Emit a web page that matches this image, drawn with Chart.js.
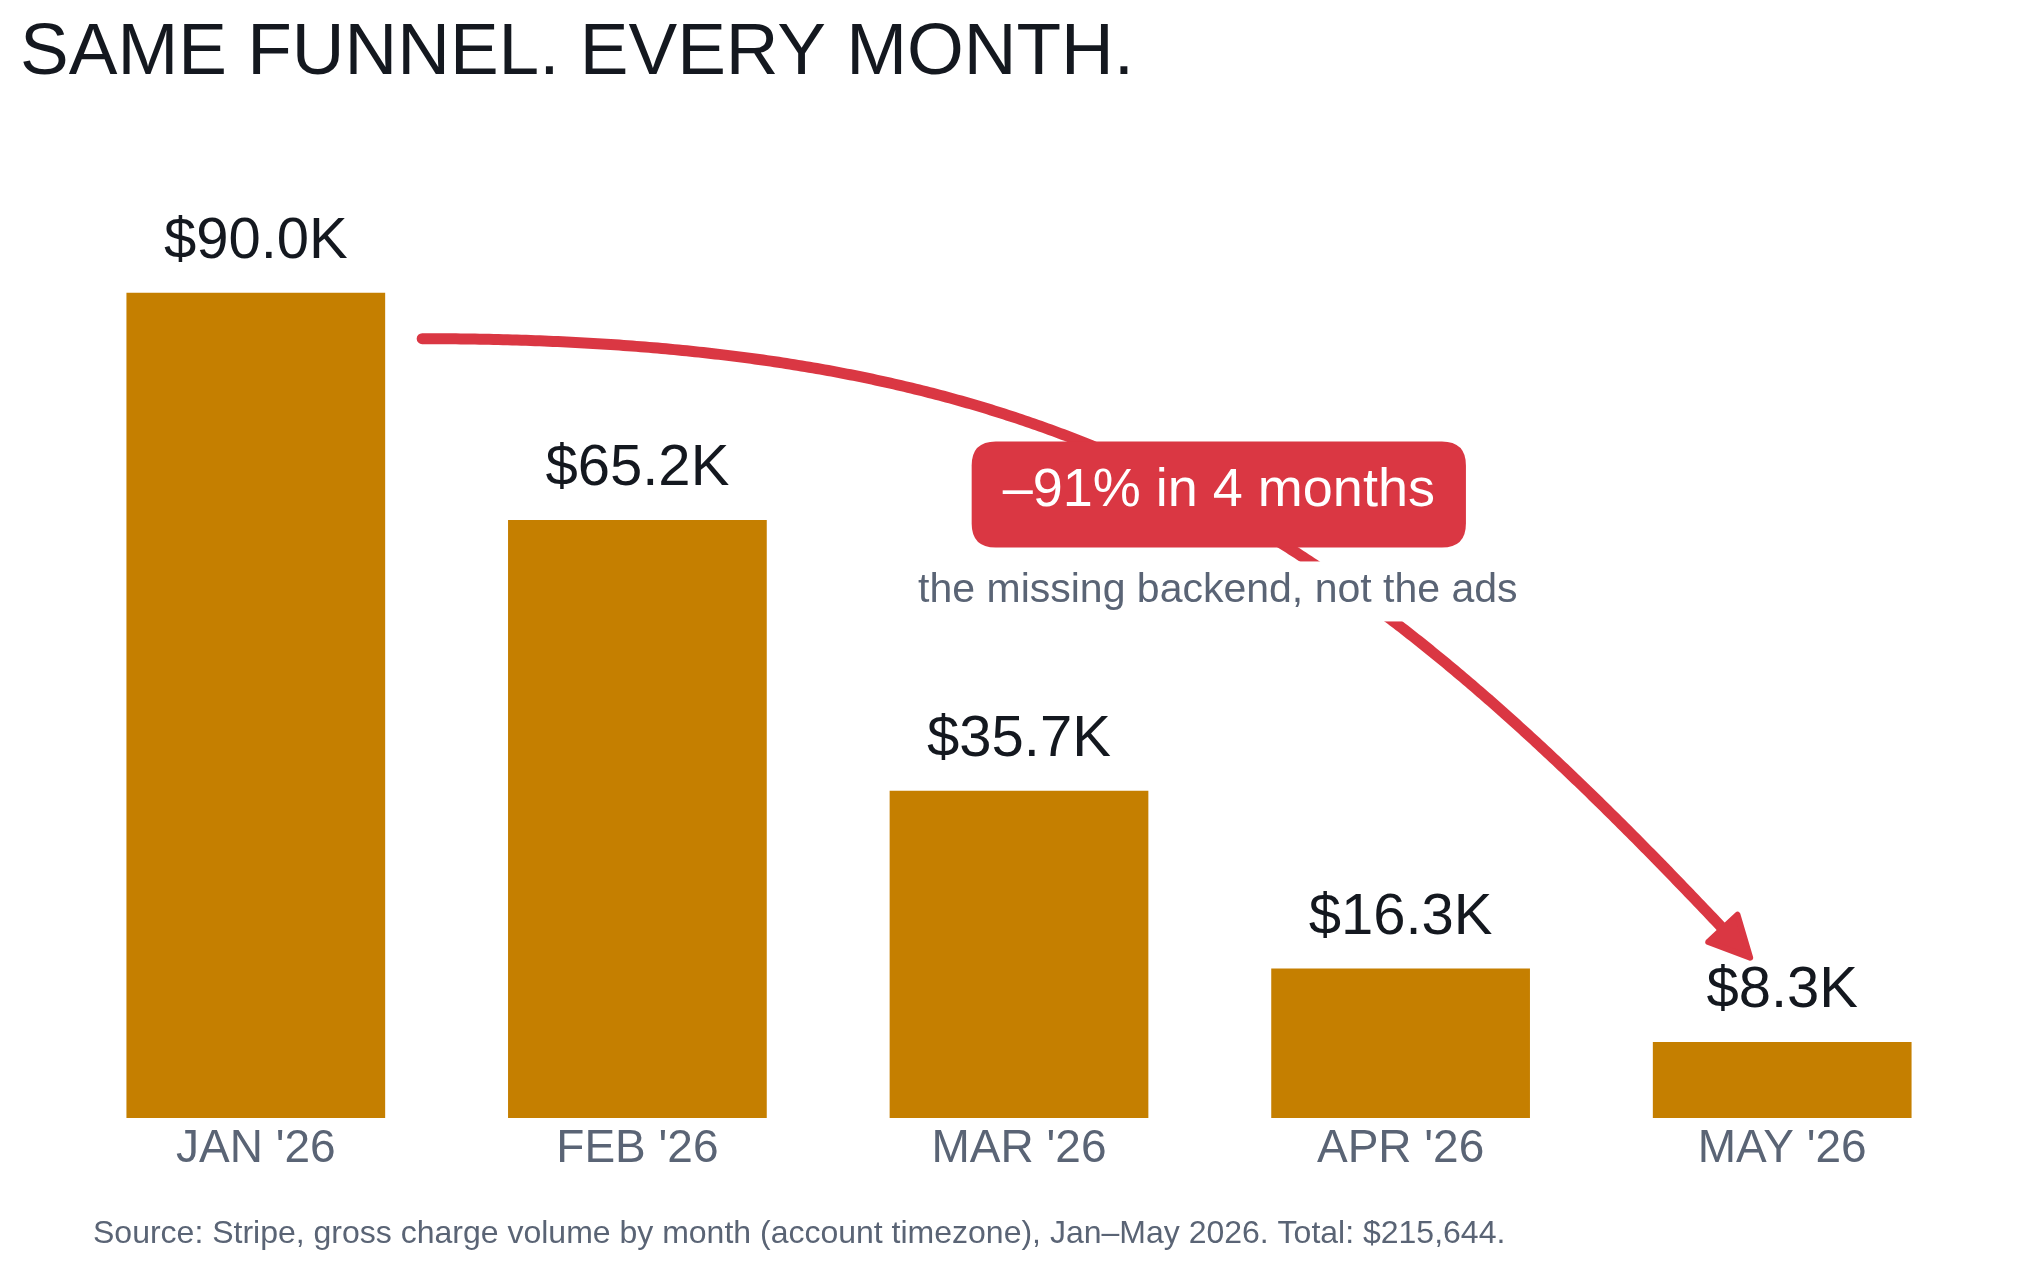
<!DOCTYPE html>
<html>
<head>
<meta charset="utf-8">
<script src="https://cdn.jsdelivr.net/npm/chart.js@4.4.1/dist/chart.umd.min.js"></script>
<style>
  html, body { margin: 0; padding: 0; background: #ffffff; }
  #wrap { width: 2039px; height: 1267px; position: relative; }
</style>
</head>
<body>
<div id="wrap"><canvas id="c"></canvas></div>
<script>
// ---- data ----
const months = ["JAN '26", "FEB '26", "MAR '26", "APR '26", "MAY '26"];
const grossK = [90.0, 65.2, 35.7, 16.3, 8.3];   // gross charge volume, $K
const titleText = "SAME FUNNEL. EVERY MONTH.";
const sourceText = "Source: Stripe, gross charge volume by month (account timezone), Jan\u2013May 2026. Total: $215,644.";
const calloutText = "\u201391% in 4 months";
const calloutNote = "the missing backend, not the ads";

const FONT = "'Liberation Sans', Arial, Helvetica, sans-serif";
const BAR = '#c57f00';
const RED = '#da3743';
const DARK = '#14181f';
const GRAY = '#5a6475';

function fmtK(v) { return '$' + v.toFixed(1) + 'K'; }

function roundRect(ctx, x, y, w, h, r) {
  ctx.beginPath();
  ctx.moveTo(x + r, y);
  ctx.lineTo(x + w - r, y);
  ctx.quadraticCurveTo(x + w, y, x + w, y + r);
  ctx.lineTo(x + w, y + h - r);
  ctx.quadraticCurveTo(x + w, y + h, x + w - r, y + h);
  ctx.lineTo(x + r, y + h);
  ctx.quadraticCurveTo(x, y + h, x, y + h - r);
  ctx.lineTo(x, y + r);
  ctx.quadraticCurveTo(x, y, x + r, y);
  ctx.closePath();
}

const annotations = {
  id: 'annotations',
  afterDatasetsDraw(chart) {
    const ctx = chart.ctx;
    const bars = chart.getDatasetMeta(0).data;
    const ys = chart.scales.y;

    // value labels
    ctx.save();
    ctx.font = '58px ' + FONT;
    ctx.fillStyle = DARK;
    ctx.textAlign = 'center';
    ctx.textBaseline = 'alphabetic';
    bars.forEach((b, i) => ctx.fillText(fmtK(grossK[i]), b.x, b.y - 35));
    ctx.restore();

    // curved arrow from first bar to last bar
    const b0 = bars[0], bN = bars[bars.length - 1];
    const P0 = { x: b0.x + b0.width / 2 + 37, y: b0.y + 46 };
    const P3 = { x: bN.x - 30, y: bN.y - 82 };
    const P1 = { x: P0.x + 650, y: P0.y };
    const P2 = { x: P3.x - 409, y: P3.y - 439 };
    const bez = (t) => {
      const u = 1 - t;
      return {
        x: u*u*u*P0.x + 3*u*u*t*P1.x + 3*u*t*t*P2.x + t*t*t*P3.x,
        y: u*u*u*P0.y + 3*u*u*t*P1.y + 3*u*t*t*P2.y + t*t*t*P3.y
      };
    };
    const headLen = 40, headHalf = 20;
    ctx.save();
    ctx.strokeStyle = RED;
    ctx.fillStyle = RED;
    ctx.lineWidth = 11;
    ctx.lineCap = 'round';
    ctx.lineJoin = 'round';
    ctx.beginPath();
    ctx.moveTo(P0.x, P0.y);
    for (let i = 1; i <= 400; i++) {
      const p = bez(i / 400);
      if (Math.hypot(P3.x - p.x, P3.y - p.y) < headLen - 4) break;
      ctx.lineTo(p.x, p.y);
    }
    ctx.stroke();
    // arrow head
    const ang = Math.atan2(P3.y - P2.y, P3.x - P2.x);
    const tip = { x: P3.x - 3 * Math.cos(ang), y: P3.y - 3 * Math.sin(ang) };
    const bx = tip.x - headLen * Math.cos(ang), by = tip.y - headLen * Math.sin(ang);
    const px = -Math.sin(ang), py = Math.cos(ang);
    ctx.lineWidth = 6;
    ctx.beginPath();
    ctx.moveTo(tip.x, tip.y);
    ctx.lineTo(bx + px * headHalf, by + py * headHalf);
    ctx.lineTo(bx - px * headHalf, by - py * headHalf);
    ctx.closePath();
    ctx.fill();
    ctx.stroke();
    ctx.restore();

    // callout box
    const cx = (bars[2].x + bars[3].x) / 2 + 9;
    const cy = ys.getPixelForValue(68);
    ctx.save();
    ctx.font = '54px ' + FONT;
    const tw = ctx.measureText(calloutText).width;
    const bw = tw + 62, bh = 106;
    ctx.fillStyle = RED;
    roundRect(ctx, cx - bw / 2, cy - bh / 2, bw, bh, 24);
    ctx.fill();
    ctx.fillStyle = '#ffffff';
    ctx.textAlign = 'center';
    ctx.textBaseline = 'middle';
    ctx.fillText(calloutText, cx, cy - 3);

    // note under the box
    ctx.font = '41px ' + FONT;
    const nw = ctx.measureText(calloutNote).width;
    const ny = cy + 108;
    const nx = cx - 1;
    ctx.fillStyle = '#ffffff';
    ctx.fillRect(nx - nw / 2 - 10, ny - 41, nw + 20, 60);
    ctx.fillStyle = GRAY;
    ctx.textBaseline = 'alphabetic';
    ctx.fillText(calloutNote, nx, ny);
    ctx.restore();
  },
  afterDraw(chart) {
    const ctx = chart.ctx;
    ctx.save();
    ctx.textAlign = 'left';
    ctx.textBaseline = 'alphabetic';
    ctx.fillStyle = DARK;
    ctx.font = '73px ' + FONT;
    ctx.fillText(titleText, 20, 74);
    ctx.fillStyle = GRAY;
    ctx.font = '32px ' + FONT;
    ctx.fillText(sourceText, 93, 1243);
    ctx.restore();
  }
};

new Chart(document.getElementById('c'), {
  type: 'bar',
  data: {
    labels: months,
    datasets: [{
      data: grossK,
      backgroundColor: BAR,
      borderWidth: 0,
      categoryPercentage: 1.0,
      barPercentage: 0.678
    }]
  },
  options: {
    responsive: true,
    maintainAspectRatio: false,
    devicePixelRatio: 1,
    animation: false,
    layout: { padding: { left: 65, right: 66, top: 201, bottom: 0 } },
    plugins: {
      legend: { display: false },
      tooltip: { enabled: false },
      title: { display: false }
    },
    scales: {
      x: {
        grid: { display: false, drawTicks: false },
        border: { display: false },
        ticks: {
          color: GRAY,
          font: { family: FONT, size: 46, lineHeight: 1.2 },
          padding: 4,
          maxRotation: 0,
          autoSkip: false
        },
        afterFit: (s) => { s.height = 149; }
      },
      y: { display: false, min: 0, max: 100 }
    }
  },
  plugins: [annotations]
});
</script>
</body>
</html>
